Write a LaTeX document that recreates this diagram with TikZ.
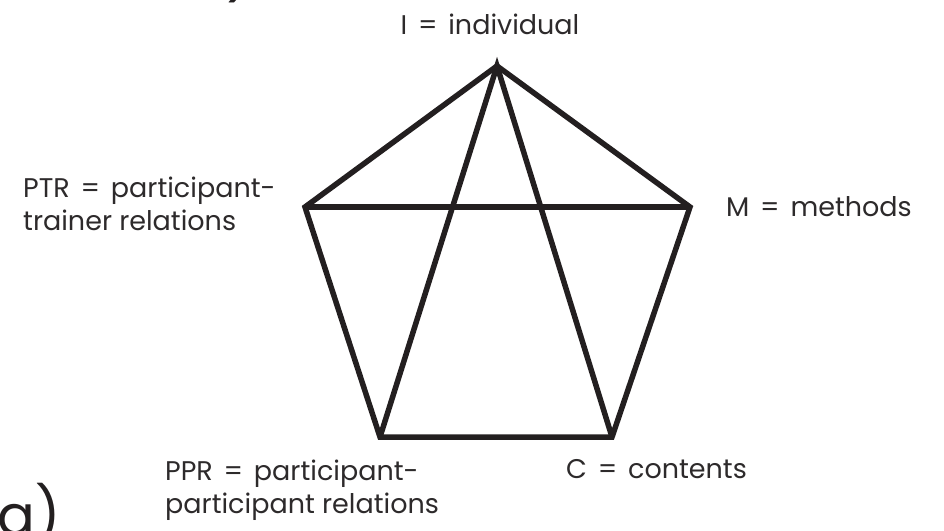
\documentclass[tikz,border=0pt]{standalone}
\usepackage{fontspec}
\setmainfont{Poppins}
\definecolor{ink}{RGB}{35,31,32}
\definecolor{txt}{RGB}{45,42,43}
\newcommand{\eqs}{\hspace{0.4em}=\hspace{0.4em}}
\begin{document}
\begin{tikzpicture}[x=1pt, y=-1pt,
  lbl/.style={font=\fontsize{27}{33}\selectfont, text=txt, inner sep=0pt, align=left},
  side/.style={draw=ink, line width=5.5pt, line join=miter},
  big/.style={font=\fontsize{56}{60}\selectfont, text=ink, inner sep=0pt}]
  \useasboundingbox (0,0) rectangle (944,530);

  % corners of the pentagon
  \coordinate (ind)  at (497,66);
  \coordinate (meth) at (690,207);
  \coordinate (cont) at (612,437);
  \coordinate (ppr)  at (380,437);
  \coordinate (ptr)  at (305,207);

  \draw[side] (ind) -- (meth) -- (cont) -- (ppr) -- (ptr) -- cycle;
  \draw[side] (ppr) -- (ind) -- (cont);
  \draw[side] (ptr) -- (meth);

  % names of the corners (base = last line)
  \node (tind)  [lbl, anchor=base]      at (490,34)  {I\eqs individual};
  \node (tmeth) [lbl, anchor=base west] at (726,216) {M\eqs methods};
  \node (tptr)  [lbl, anchor=base west] at (23,230)  {PTR\eqs participant-\\trainer relations};
  \node (tppr)  [lbl, anchor=base west] at (165,513) {PPR\eqs participant-\\participant relations};
  \node (tcont) [lbl, anchor=base west] at (566,478) {C\eqs contents};

  % cut-off marks at the edges
  \node (part)  [big, anchor=base west] at (-3,535) {g)};
  \node (paren) [big, anchor=base west] at (226,-7) {)};
\end{tikzpicture}
\end{document}
